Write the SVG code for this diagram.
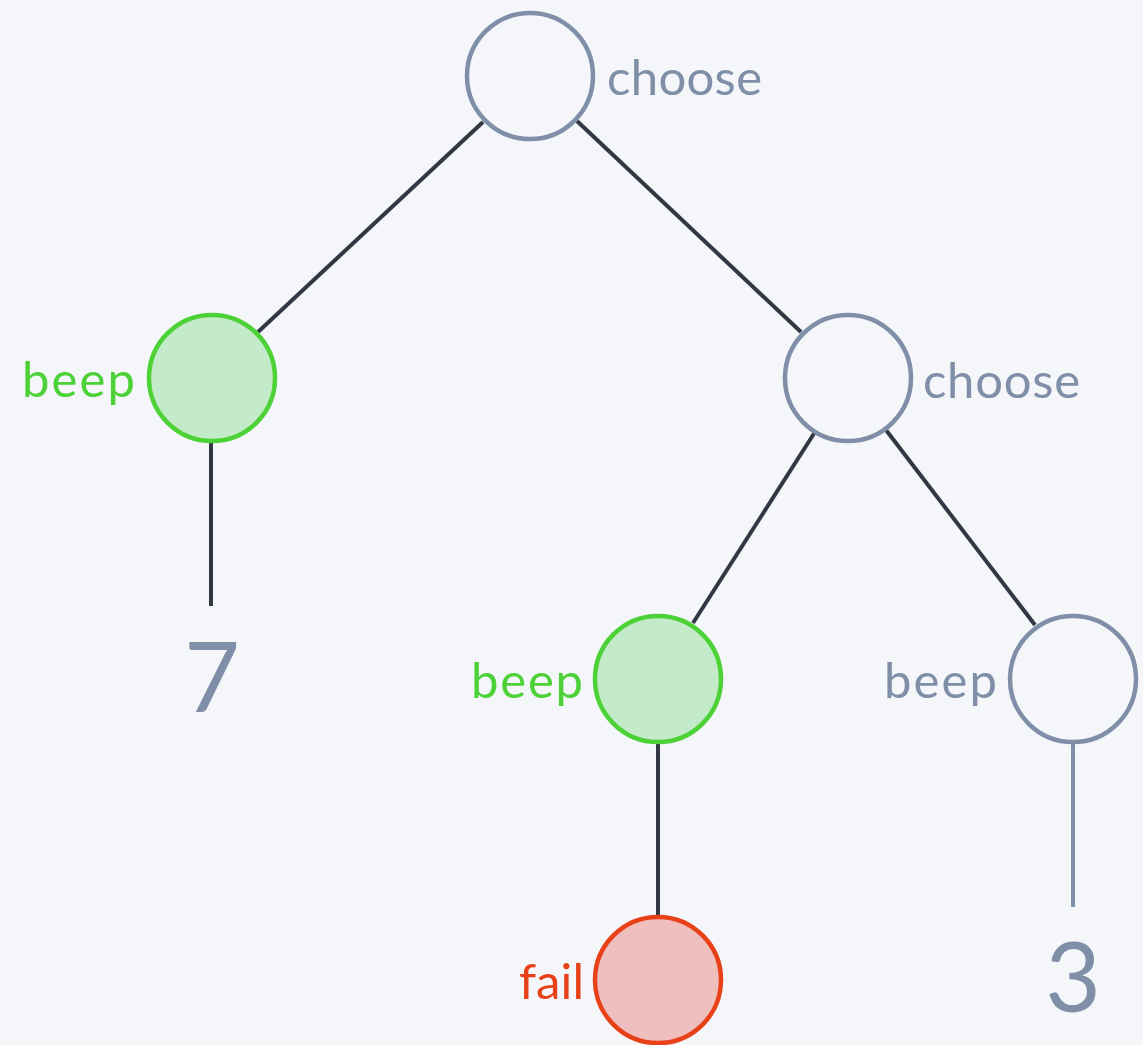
<svg xmlns="http://www.w3.org/2000/svg" width="1143" height="1045" viewBox="0 0 1143 1045">
  <style>
    .edge { stroke: #323843; stroke-width: 4; fill: none; }
    .edge-muted { stroke: #7f8fa7; stroke-width: 4; fill: none; }
    .node { stroke-width: 4.5; }
    .plain { fill: #f4f6fa; stroke: #7f8fa7; }
    .ok { fill: #c4ebc9; stroke: #4cd137; }
    .bad { fill: #efbfbf; stroke: #e84118; }
    .label { font-family: Lato, "Open Sans", "Liberation Sans", sans-serif; font-size: 49px; }
    .label-plain { fill: #7f8fa7; }
    .label-ok { fill: #4cd137; }
    .label-bad { fill: #e84118; }
    .value { font-family: Lato, "Open Sans", "Liberation Sans", sans-serif; font-size: 96px; fill: #7f8fa7; }
  </style>
  <rect width="1143" height="1045" fill="#f4f6fa"/>

  <g id="edges">
    <line class="edge" x1="483" y1="122" x2="258" y2="332"/>
    <line class="edge" x1="577" y1="121" x2="801" y2="332"/>
    <line class="edge" x1="211" y1="442" x2="211" y2="606"/>
    <line class="edge" x1="815" y1="432" x2="693" y2="623"/>
    <line class="edge" x1="886" y1="430" x2="1035" y2="625"/>
    <line class="edge" x1="658" y1="744" x2="658" y2="915"/>
    <line class="edge-muted" x1="1073" y1="744" x2="1073" y2="907"/>
  </g>

  <g id="root-choose">
    <circle class="node plain" cx="530" cy="76" r="63"/>
    <text class="label label-plain" x="607" y="95" textLength="155">choose</text>
  </g>

  <g id="left-beep">
    <circle class="node ok" cx="212" cy="378" r="63"/>
    <text class="label label-ok" x="22" y="397" textLength="113">beep</text>
  </g>

  <g id="left-value">
    <text class="value" x="212" y="712" text-anchor="middle">7</text>
  </g>

  <g id="right-choose">
    <circle class="node plain" cx="848" cy="378" r="63"/>
    <text class="label label-plain" x="923" y="398" textLength="157">choose</text>
  </g>

  <g id="middle-beep">
    <circle class="node ok" cx="658" cy="679" r="63"/>
    <text class="label label-ok" x="471" y="698" textLength="112">beep</text>
  </g>

  <g id="right-beep">
    <circle class="node plain" cx="1073" cy="679" r="63"/>
    <text class="label label-plain" x="884" y="698" textLength="113">beep</text>
  </g>

  <g id="fail">
    <circle class="node bad" cx="658" cy="980" r="63"/>
    <text class="label label-bad" x="519" y="999" textLength="65">fail</text>
  </g>

  <g id="right-value">
    <text class="value" x="1073" y="1012" text-anchor="middle">3</text>
  </g>
</svg>
